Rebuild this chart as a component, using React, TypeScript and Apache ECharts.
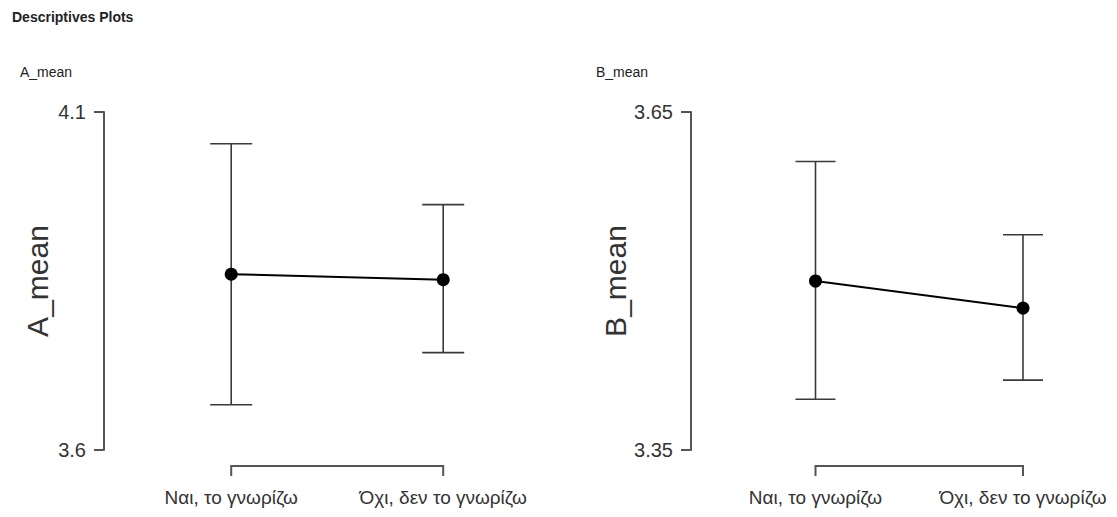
import React, { useEffect, useRef } from "react";
import * as echarts from "echarts";

const categories = ["Ναι, το γνωρίζω", "Όχι, δεν το γνωρίζω"];
const aMeans = [3.86, 3.852];
const aLower = [3.667, 3.744];
const aUpper = [4.053, 3.963];
const bMeans = [3.5, 3.476];
const bLower = [3.395, 3.412];
const bUpper = [3.606, 3.541];
const aTicks = [3.6, 4.1];
const bTicks = [3.35, 3.65];

const FONT = "'Liberation Sans', Arial, sans-serif";
const AXIS_COLOR = "#555";
const TEXT_COLOR = "#333";
const BAR_COLOR = "#3a3a3a";

function errorBarItem(halfWidth: number) {
  return (params: any, api: any) => {
    const x = api.value(0);
    const lo = api.coord([x, api.value(1)]);
    const hi = api.coord([x, api.value(2)]);
    const style = { stroke: BAR_COLOR, lineWidth: 1.6 };
    return {
      type: "group",
      children: [
        { type: "line", shape: { x1: lo[0], y1: lo[1], x2: hi[0], y2: hi[1] }, style },
        { type: "line", shape: { x1: hi[0] - halfWidth, y1: hi[1], x2: hi[0] + halfWidth, y2: hi[1] }, style },
        { type: "line", shape: { x1: lo[0] - halfWidth, y1: lo[1], x2: lo[0] + halfWidth, y2: lo[1] }, style },
      ],
    };
  };
}

function bracketItem(params: any, api: any) {
  const p0 = api.coord([api.value(0), api.value(2)]);
  const p1 = api.coord([api.value(1), api.value(2)]);
  const y = p0[1] + 16;
  return {
    type: "polyline",
    shape: { points: [[p0[0], y + 10], [p0[0], y], [p1[0], y], [p1[0], y + 10]] },
    style: { stroke: AXIS_COLOR, lineWidth: 2, fill: "none" },
  };
}

function makeX(gridIndex: number) {
  return {
    type: "value",
    gridIndex,
    min: -0.6,
    max: 1.4,
    axisLine: { show: false, onZero: false },
    axisTick: { show: false },
    splitLine: { show: false },
    axisLabel: {
      customValues: [0, 1],
      formatter: (v: number) => categories[Math.round(v)],
      margin: 38,
      fontSize: 19,
      fontFamily: FONT,
      color: TEXT_COLOR,
    },
  };
}

function makeY(gridIndex: number, ticks: number[], name: string) {
  return {
    type: "value",
    gridIndex,
    min: ticks[0],
    max: ticks[ticks.length - 1],
    name,
    nameLocation: "middle",
    nameGap: 52,
    nameTextStyle: { fontSize: 30, fontFamily: FONT, color: TEXT_COLOR },
    axisLine: { show: true, onZero: false, lineStyle: { color: AXIS_COLOR, width: 2 } },
    axisTick: { show: true, customValues: ticks, length: 10, lineStyle: { color: AXIS_COLOR, width: 2 } },
    splitLine: { show: false },
    axisLabel: {
      customValues: ticks,
      margin: 18,
      fontSize: 20,
      fontFamily: FONT,
      color: TEXT_COLOR,
    },
  };
}

export default function App() {
  const ref = useRef<HTMLDivElement>(null);
  useEffect(() => {
    if (!ref.current) return;
    const chart = echarts.init(ref.current, null, { renderer: "svg" });
    const pairs = (xs: number[]) => xs.map((v, i) => [i, v]);
    const bars = (lo: number[], hi: number[]) => lo.map((v, i) => [i, v, hi[i]]);
    chart.setOption({
      animation: false,
      backgroundColor: "#fff",
      grid: [
        { left: 104, top: 112, width: 424, height: 338 },
        { left: 691, top: 112, width: 415, height: 338 },
      ],
      xAxis: [makeX(0), makeX(1)],
      yAxis: [makeY(0, aTicks, "A_mean"), makeY(1, bTicks, "B_mean")],
      graphic: [
        { type: "text", left: 12, top: 10, style: { text: "Descriptives Plots", font: `bold 14px ${FONT}`, fill: "#222" } },
        { type: "text", left: 20, top: 65, style: { text: "A_mean", font: `14px ${FONT}`, fill: "#222" } },
        { type: "text", left: 596, top: 65, style: { text: "B_mean", font: `14px ${FONT}`, fill: "#222" } },
      ],
      series: [
        {
          type: "custom",
          xAxisIndex: 0,
          yAxisIndex: 0,
          clip: false,
          renderItem: bracketItem,
          encode: { x: [0, 1], y: 2 },
          data: [[0, 1, aTicks[0]]],
          silent: true,
        },
        {
          type: "custom",
          xAxisIndex: 1,
          yAxisIndex: 1,
          clip: false,
          renderItem: bracketItem,
          encode: { x: [0, 1], y: 2 },
          data: [[0, 1, bTicks[0]]],
          silent: true,
        },
        {
          type: "custom",
          xAxisIndex: 0,
          yAxisIndex: 0,
          renderItem: errorBarItem(21),
          encode: { x: 0, y: [1, 2] },
          data: bars(aLower, aUpper),
          z: 1,
        },
        {
          type: "custom",
          xAxisIndex: 1,
          yAxisIndex: 1,
          renderItem: errorBarItem(20),
          encode: { x: 0, y: [1, 2] },
          data: bars(bLower, bUpper),
          z: 1,
        },
        {
          type: "line",
          xAxisIndex: 0,
          yAxisIndex: 0,
          data: pairs(aMeans),
          symbol: "circle",
          symbolSize: 13,
          itemStyle: { color: "#000" },
          lineStyle: { color: "#000", width: 2 },
          z: 3,
        },
        {
          type: "line",
          xAxisIndex: 1,
          yAxisIndex: 1,
          data: pairs(bMeans),
          symbol: "circle",
          symbolSize: 13,
          itemStyle: { color: "#000" },
          lineStyle: { color: "#000", width: 2 },
          z: 3,
        },
      ],
    });
    return () => chart.dispose();
  }, []);
  return (
    <div
      ref={ref}
      style={{ position: "fixed", left: 0, top: 0, width: 1117, height: 517, background: "#fff" }}
    />
  );
}
